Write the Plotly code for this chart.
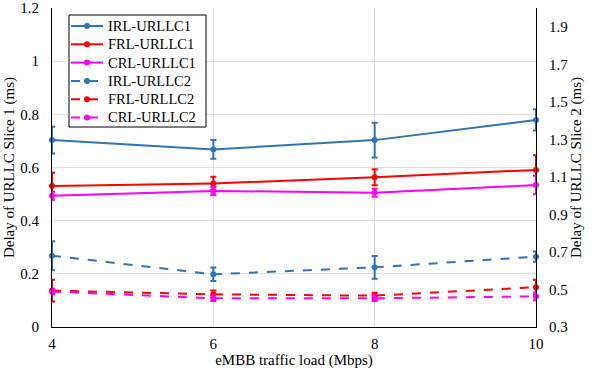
import plotly.graph_objects as go

load = [4, 6, 8, 10]

# slice 1 (left axis)
irl_u1 = [0.703, 0.668, 0.703, 0.779]
irl_u1_err = [0.05, 0.035, 0.065, 0.04]
frl_u1 = [0.530, 0.540, 0.563, 0.591]
frl_u1_err = [0.05, 0.025, 0.03, 0.055]
crl_u1 = [0.494, 0.512, 0.505, 0.534]
crl_u1_err = [0.015, 0.015, 0.015, 0.035]

# slice 2 (right axis)
irl_u2 = [0.680, 0.581, 0.618, 0.675]
irl_u2_err = [0.077, 0.036, 0.061, 0.027]
frl_u2 = [0.494, 0.474, 0.467, 0.512]
frl_u2_err = [0.058, 0.02, 0.015, 0.04]
crl_u2 = [0.489, 0.453, 0.453, 0.463]
crl_u2_err = [0.015, 0.015, 0.015, 0.02]

blue = "#2F75B5"
red = "#FF0000"
magenta = "#FF00FF"

series = [
    ("IRL-URLLC1", irl_u1, irl_u1_err, blue, "solid", "y"),
    ("FRL-URLLC1", frl_u1, frl_u1_err, red, "solid", "y"),
    ("CRL-URLLC1", crl_u1, crl_u1_err, magenta, "solid", "y"),
    ("IRL-URLLC2", irl_u2, irl_u2_err, blue, "dash", "y2"),
    ("FRL-URLLC2", frl_u2, frl_u2_err, red, "dash", "y2"),
    ("CRL-URLLC2", crl_u2, crl_u2_err, magenta, "dash", "y2"),
]

W, H = 592, 369
ML, MR, MT, MB = 52, 56, 8, 42
PW, PH = W - ML - MR, H - MT - MB


# pixel -> paper helpers (for the hand-made legend box)
def px(x):
    return (x - ML) / PW


def py(y):
    return (H - MB - y) / PH


fig = go.Figure()
for name, vals, err, color, dash, axis in series:
    fig.add_trace(go.Scatter(
        x=load, y=vals, name=name, yaxis=axis,
        mode="lines+markers",
        line=dict(color=color, width=2, dash=dash),
        marker=dict(color=color, size=6),
        error_y=dict(type="data", array=err, color=color, thickness=2, width=3),
        cliponaxis=False,
        showlegend=False,
    ))

font = "Liberation Serif"

# legend drawn by hand so the rows can be as tight as the original
shapes = [dict(type="rect", xref="paper", yref="paper",
               x0=px(69), x1=px(206), y0=py(127), y1=py(15),
               line=dict(color="black", width=1), fillcolor="white", layer="above")]
annotations = []
for i, (name, vals, err, color, dash, axis) in enumerate(series):
    yy = 26 + 18.3 * i
    shapes.append(dict(type="line", xref="paper", yref="paper",
                       x0=px(71), x1=px(103), y0=py(yy), y1=py(yy),
                       line=dict(color=color, width=2, dash="dash" if dash == "dash" else "solid"),
                       layer="above"))
    shapes.append(dict(type="circle", xref="paper", yref="paper",
                       x0=px(84), x1=px(90), y0=py(yy + 3), y1=py(yy - 3),
                       line=dict(color=color, width=0), fillcolor=color, layer="above"))
    annotations.append(dict(text=name, xref="paper", yref="paper",
                            x=px(106), y=py(yy), xanchor="left", yanchor="middle",
                            showarrow=False, font=dict(family=font, size=14.5, color="black")))

fig.update_layout(
    width=W, height=H,
    margin=dict(l=ML, r=MR, t=MT, b=MB),
    plot_bgcolor="white", paper_bgcolor="white",
    font=dict(family=font, size=15, color="black"),
    showlegend=False,
    shapes=shapes,
    annotations=annotations,
    xaxis=dict(range=[4, 10], tickvals=load, showgrid=True, gridcolor="#E0E0E0",
               showline=True, linecolor="black", linewidth=1, ticks="",
               automargin=False, ticklabelstandoff=3,
               title=dict(text="eMBB traffic load (Mbps)", font=dict(family=font, size=15), standoff=2),
               tickfont=dict(family=font, size=15), zeroline=False),
    yaxis=dict(range=[0, 1.2], dtick=0.2, tick0=0, showgrid=True, gridcolor="#E0E0E0",
               showline=True, linecolor="black", linewidth=1, ticks="",
               automargin=False, ticklabelstandoff=9,
               title=dict(text="Delay of URLLC Slice 1 (ms)", font=dict(family=font, size=15), standoff=2),
               tickfont=dict(family=font, size=15), zeroline=False, tickformat="~g"),
    yaxis2=dict(range=[0.3, 2.0], tickvals=[0.3, 0.5, 0.7, 0.9, 1.1, 1.3, 1.5, 1.7, 1.9],
                overlaying="y", side="right", showgrid=False,
                showline=True, linecolor="black", linewidth=1, ticks="",
                automargin=False, ticklabelstandoff=9,
                title=dict(text="Delay of URLLC Slice 2 (ms)", font=dict(family=font, size=15), standoff=2),
                tickfont=dict(family=font, size=15), zeroline=False),
)

# the page's default 8px body margin would shift the whole figure
fig.write_html("out.html", config={"displayModeBar": False},
               post_script="document.body.style.margin='0';")
